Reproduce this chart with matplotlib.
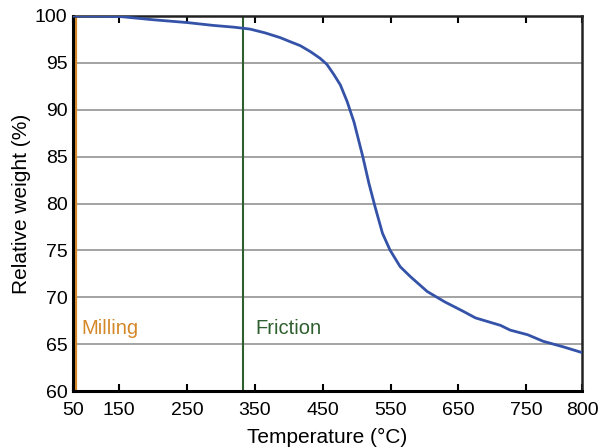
import matplotlib.pyplot as plt

plt.rcParams['font.family'] = ['Liberation Sans', 'DejaVu Sans']

# TGA curve
temp = [82, 150, 200, 250, 288, 320, 343, 365, 387, 402, 417, 432, 446, 456,
        466, 476, 486, 496, 509, 518, 527, 538, 549, 564, 579, 604, 630, 657,
        675, 712, 726, 752, 775, 805, 832]
weight = [100.0, 99.95, 99.6, 99.3, 99.0, 98.8, 98.6, 98.2, 97.7, 97.26,
          96.83, 96.19, 95.49, 94.85, 93.8, 92.64, 90.86, 88.7, 85.0, 82.16,
          79.67, 76.83, 75.05, 73.27, 72.21, 70.61, 69.5, 68.5, 67.8, 67.0,
          66.5, 66.0, 65.3, 64.7, 64.1]

milling_t = 86
friction_t = 333

xticks = [82, 150, 250, 350, 450, 550, 650, 750, 832]
xtick_labels = ['50', '150', '250', '350', '450', '550', '650', '750', '800']
yticks = [60, 65, 70, 75, 80, 85, 90, 95, 100]

fig = plt.figure(figsize=(5.99, 4.48), dpi=100)
ax = fig.add_axes([0.1219, 0.1272, 0.8497, 0.8371])

for y in yticks[1:-1]:
    ax.axhline(y, color='#8a8a8a', lw=1.1, zorder=1)

ax.axvline(milling_t, color='#d4882a', lw=1.6, zorder=2)
ax.axvline(friction_t, color='#2f5f2f', lw=1.5, zorder=2)
ax.plot(temp, weight, color='#3452a8', lw=2.0, zorder=3)

ax.text(milling_t + 9, 66.1, 'Milling', color='#d4882a', fontsize=14.5)
ax.text(friction_t + 18, 66.1, 'Friction', color='#2f5f2f', fontsize=14.5)

ax.set_xlim(82, 832)
ax.set_ylim(60, 100)
ax.set_xticks(xticks)
ax.set_xticklabels(xtick_labels)
ax.set_yticks(yticks)
ax.tick_params(axis='x', direction='in', top=True, length=5, width=1.5,
               labelsize=14, pad=8)
ax.tick_params(axis='y', length=0, labelsize=14, pad=4)

for side in ['left', 'bottom']:
    ax.spines[side].set_linewidth(2.2)
    ax.spines[side].set_color('black')
for side in ['top', 'right']:
    ax.spines[side].set_linewidth(1.8)
    ax.spines[side].set_color('#222222')

ax.set_xlabel('Temperature (°C)', fontsize=15, labelpad=6)
ax.set_ylabel('Relative weight (%)', fontsize=15, labelpad=3)

fig.savefig('out.png', dpi=100)
